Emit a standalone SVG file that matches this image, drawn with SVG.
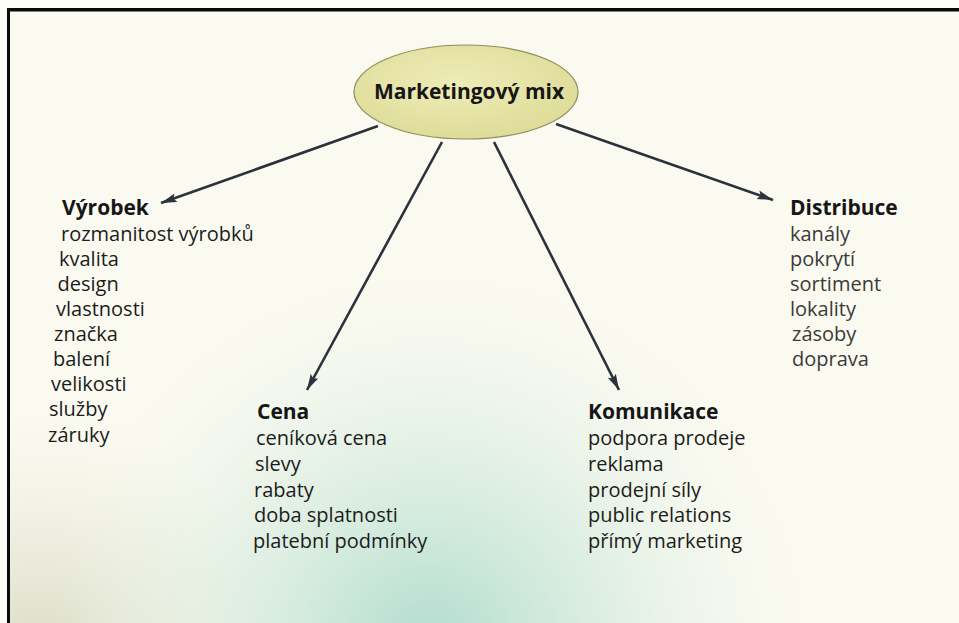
<svg xmlns="http://www.w3.org/2000/svg" width="959" height="623" viewBox="0 0 959 623">
  <defs>
    <style>
      .head { font-family: "Open Sans", "Liberation Sans", sans-serif; font-weight: 700; font-size: 21px; fill: #161616; }
      .item { font-family: "Open Sans", "Liberation Sans", sans-serif; font-weight: 400; font-size: 20px; fill: #1c1c1c; }
      .soft { fill: #3a3a3a; }
      .link { stroke: #2b323c; stroke-width: 2.6; fill: none; marker-end: url(#tip); }
    </style>
    <marker id="tip" markerUnits="userSpaceOnUse" markerWidth="18" markerHeight="10" refX="16" refY="4.5" orient="auto">
      <path d="M0,0 L16,4.5 L0,9 L3,4.5 z" fill="#2b323c"/>
    </marker>
    <radialGradient id="tealHaze" cx="430" cy="650" r="380" gradientUnits="userSpaceOnUse">
      <stop offset="0" stop-color="#9ad4c6" stop-opacity="0.8"/>
      <stop offset="0.45" stop-color="#bde2d2" stop-opacity="0.5"/>
      <stop offset="1" stop-color="#e6f2e6" stop-opacity="0"/>
    </radialGradient>
    <radialGradient id="cornerHaze" cx="40" cy="650" r="240" gradientUnits="userSpaceOnUse">
      <stop offset="0" stop-color="#d3d6bd" stop-opacity="0.85"/>
      <stop offset="1" stop-color="#e9e9d8" stop-opacity="0"/>
    </radialGradient>
    <radialGradient id="hubFill" cx="0.45" cy="0.4" r="0.65">
      <stop offset="0" stop-color="#eeecb8"/>
      <stop offset="1" stop-color="#dddb95"/>
    </radialGradient>
  </defs>

  <!-- page -->
  <rect x="0" y="0" width="959" height="623" fill="#fdfdf8"/>
  <rect x="9" y="10" width="950" height="613" fill="#fbfaf1"/>
  <rect x="9" y="10" width="950" height="613" fill="url(#cornerHaze)"/>
  <rect x="9" y="10" width="950" height="613" fill="url(#tealHaze)"/>

  <!-- frame -->
  <rect x="8" y="8" width="951" height="3.5" fill="#0a0a0a"/>
  <rect x="7" y="8" width="3" height="615" fill="#0a0a0a"/>

  <!-- connectors -->
  <g id="connectors">
    <line class="link" x1="378" y1="126" x2="161" y2="203"/>
    <line class="link" x1="442" y1="142" x2="307" y2="390"/>
    <line class="link" x1="494" y1="142" x2="619" y2="390"/>
    <line class="link" x1="556" y1="124" x2="773" y2="200"/>
  </g>

  <!-- hub -->
  <g id="hub">
    <ellipse cx="466" cy="92" rx="112" ry="47" fill="url(#hubFill)" stroke="#8f8d5e" stroke-width="1.2"/>
    <text class="head" x="469" y="99" text-anchor="middle" font-size="19.5">Marketingový mix</text>
  </g>

  <!-- product -->
  <g id="vyrobek">
    <text class="head" x="62" y="215">Výrobek</text>
    <text class="item" x="61" y="241">rozmanitost výrobků</text>
    <text class="item" x="59" y="266">kvalita</text>
    <text class="item" x="57.5" y="291">design</text>
    <text class="item" x="56" y="316">vlastnosti</text>
    <text class="item" x="54" y="341">značka</text>
    <text class="item" x="53" y="366">balení</text>
    <text class="item" x="51" y="391">velikosti</text>
    <text class="item" x="49" y="416">služby</text>
    <text class="item" x="48" y="442">záruky</text>
  </g>

  <!-- price -->
  <g id="cena">
    <text class="head" x="257" y="419">Cena</text>
    <text class="item" x="256" y="445">ceníková cena</text>
    <text class="item" x="255" y="471">slevy</text>
    <text class="item" x="254" y="497">rabaty</text>
    <text class="item" x="254" y="522">doba splatnosti</text>
    <text class="item" x="253" y="548">platební podmínky</text>
  </g>

  <!-- promotion -->
  <g id="komunikace">
    <text class="head" x="588" y="419">Komunikace</text>
    <text class="item" x="588" y="445">podpora prodeje</text>
    <text class="item" x="588" y="471">reklama</text>
    <text class="item" x="588" y="497">prodejní síly</text>
    <text class="item" x="588" y="522">public relations</text>
    <text class="item" x="588" y="548">přímý marketing</text>
  </g>

  <!-- distribution -->
  <g id="distribuce">
    <text class="head" x="790" y="215">Distribuce</text>
    <text class="item soft" x="790" y="241">kanály</text>
    <text class="item soft" x="790" y="266">pokrytí</text>
    <text class="item soft" x="790" y="291">sortiment</text>
    <text class="item soft" x="790" y="316">lokality</text>
    <text class="item soft" x="792" y="341">zásoby</text>
    <text class="item soft" x="792" y="366">doprava</text>
  </g>
</svg>
